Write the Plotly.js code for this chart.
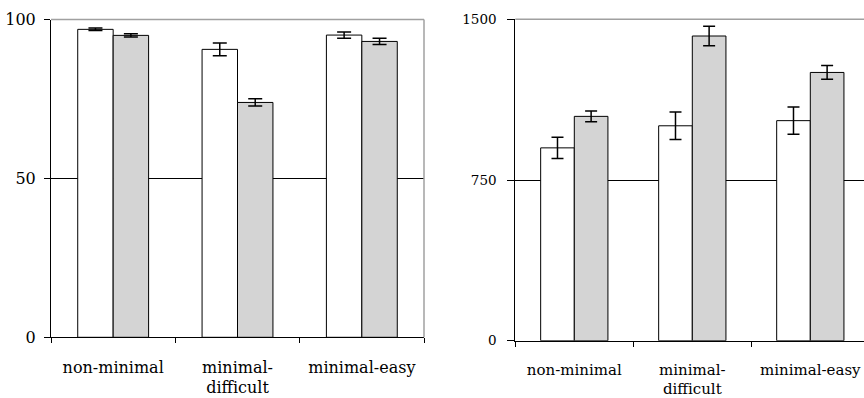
<!DOCTYPE html>
<html>
<head>
<meta charset="utf-8">
<script src="https://cdn.plot.ly/plotly-3.0.1.min.js"></script>
<style>html,body{margin:0;padding:0;background:#fff;}#chart{width:864px;height:398px;}</style>
</head>
<body>
<div id="chart"></div>
<script>
// ---- data ----
const categories = ['non-minimal', 'minimal-difficult', 'minimal-easy'];
const tickLabels = ['non-minimal', 'minimal-<br>difficult', 'minimal-easy'];

const leftWhite = [96.9, 90.6, 95.1];
const leftWhiteErr = [0.4, 2.0, 1.0];
const leftGray = [95.0, 73.9, 93.1];
const leftGrayErr = [0.5, 1.15, 1.0];

const rightWhite = [900, 1003, 1027];
const rightWhiteErr = [50, 64, 64];
const rightGray = [1047, 1422, 1252];
const rightGrayErr = [25, 46, 32];

const leftYTicks = [0, 50, 100];
const rightYTicks = [0, 750, 1500];

// ---- styles ----
const W = 864, H = 398;
const serif = 'DejaVu Serif';
const grayFill = '#d4d4d4';

function barTrace(y, err, fill, xa, ya, errW) {
  return {
    type: 'bar', x: categories, y: y, xaxis: xa, yaxis: ya,
    marker: {color: fill, line: {color: '#000', width: 1}},
    error_y: {type: 'data', array: err, visible: true, color: '#000', thickness: 1.5, width: errW},
    hoverinfo: 'skip', showlegend: false
  };
}

const data = [
  barTrace(leftWhite, leftWhiteErr, '#ffffff', 'x', 'y', 7),
  barTrace(leftGray, leftGrayErr, grayFill, 'x', 'y', 7),
  barTrace(rightWhite, rightWhiteErr, '#ffffff', 'x2', 'y2', 6),
  barTrace(rightGray, rightGrayErr, grayFill, 'x2', 'y2', 6)
];

function xAxis(dom, range, anchor, size, standoff) {
  return {
    domain: dom, anchor: anchor, type: 'category', range: range,
    tickmode: 'array', tickvals: categories, ticktext: tickLabels,
    tickson: 'boundaries', ticks: 'outside', ticklen: 5, tickcolor: '#000', tickwidth: 1,
    ticklabelstandoff: standoff, tickangle: 0,
    showline: true, linecolor: '#000', linewidth: 1, showgrid: false, zeroline: false,
    tickfont: {family: serif, size: size, color: '#000'}, fixedrange: true
  };
}
function yAxis(dom, range, ticks, anchor, size, len, standoff) {
  return {
    domain: dom, anchor: anchor, range: range,
    tickmode: 'array', tickvals: ticks, ticktext: ticks.map(String),
    ticks: 'outside', ticklen: len, tickcolor: '#000', tickwidth: 1,
    ticklabelstandoff: standoff,
    showline: true, linecolor: '#000', linewidth: 1,
    showgrid: true, gridcolor: '#000', gridwidth: 1, zeroline: false,
    tickfont: {family: serif, size: size, color: '#000'}, fixedrange: true
  };
}

const layout = {
  width: W, height: H,
  margin: {l: 0, r: 0, t: 0, b: 0},
  font: {family: serif},
  paper_bgcolor: '#fff', plot_bgcolor: 'rgba(0,0,0,0)',
  barmode: 'group', bargap: 0.43, bargroupgap: 0,
  showlegend: false,
  xaxis: xAxis([51 / W, 424 / W], [-0.5, 2.5], 'y', 16, 15),
  yaxis: yAxis([(H - 337.3) / H, (H - 19.5) / H], [0, 100], leftYTicks, 'x', 16, 6, 5),
  xaxis2: xAxis([515.3 / W, 1], [-0.5, 2.455], 'y2', 15, 15),
  yaxis2: yAxis([(H - 340.7) / H, (H - 19.3) / H], [0, 1500], rightYTicks, 'x2', 13.5, 7, 8),
  shapes: [
    {type: 'line', xref: 'x domain', yref: 'y domain', x0: 0, x1: 1, y0: 1, y1: 1, line: {color: '#a0a0a0', width: 1.5}},
    {type: 'line', xref: 'x domain', yref: 'y domain', x0: 1, x1: 1, y0: 0, y1: 1, line: {color: '#a0a0a0', width: 1.5}},
    {type: 'line', xref: 'x2 domain', yref: 'y2 domain', x0: 0, x1: 1, y0: 1, y1: 1, line: {color: '#a0a0a0', width: 1.5}}
  ]
};

Plotly.newPlot('chart', data, layout, {displayModeBar: false, staticPlot: true});
</script>
</body>
</html>
